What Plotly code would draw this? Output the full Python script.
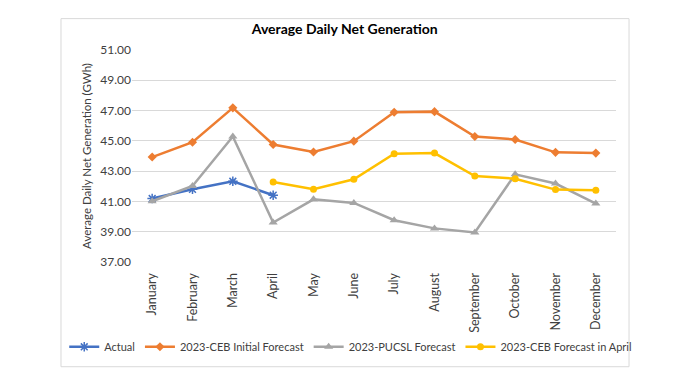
import plotly.graph_objects as go

months = ["January", "February", "March", "April", "May", "June", "July",
          "August", "September", "October", "November", "December"]
actual = [41.19, 41.80, 42.33, 41.41, None, None, None, None, None, None, None, None]
ceb_initial = [43.93, 44.91, 47.18, 44.76, 44.26, 44.98, 46.89, 46.93, 45.29, 45.09, 44.24, 44.19]
pucsl = [41.01, 42.02, 45.29, 39.61, 41.14, 40.90, 39.76, 39.22, 38.95, 42.79, 42.18, 40.86]
ceb_april = [None, None, None, 42.28, 41.80, 42.46, 44.15, 44.19, 42.68, 42.50, 41.78, 41.74]
y_ticks = [37, 39, 41, 43, 45, 47, 49, 51]

FONT = "Lato"

fig = go.Figure()
fig.add_trace(go.Scatter(x=months, y=actual, name="Actual", mode="lines+markers",
                         line=dict(color="#4472C4", width=2.5),
                         marker=dict(symbol="asterisk-open", size=8, color="#4472C4",
                                     line=dict(color="#4472C4", width=1.5))))
fig.add_trace(go.Scatter(x=months, y=ceb_initial, name="2023-CEB Initial Forecast", mode="lines+markers",
                         line=dict(color="#ED7D31", width=2.5),
                         marker=dict(symbol="diamond", size=7, color="#ED7D31")))
fig.add_trace(go.Scatter(x=months, y=pucsl, name="2023-PUCSL Forecast", mode="lines+markers",
                         line=dict(color="#A5A5A5", width=2.5),
                         marker=dict(symbol="triangle-up", size=8, color="#A5A5A5")))
fig.add_trace(go.Scatter(x=months, y=ceb_april, name="2023-CEB Forecast in April", mode="lines+markers",
                         line=dict(color="#FFC000", width=2.5),
                         marker=dict(symbol="circle", size=7, color="#FFC000")))

fig.update_layout(
    width=700, height=391,
    margin=dict(l=124, r=92, t=41.5, b=137, autoexpand=False),
    paper_bgcolor="white", plot_bgcolor="white",
    font=dict(family=FONT, color="#404040", size=12),
    title=dict(text="<b>Average Daily Net Generation</b>", xref="container", x=0.481,
               xanchor="center", yref="container", y=0.946, yanchor="middle",
               font=dict(family=FONT, size=14, color="#000000")),
    showlegend=True,
    legend=dict(orientation="h", x=-0.14, xanchor="left", y=-0.4, yanchor="middle",
                bgcolor="rgba(0,0,0,0)",
                font=dict(size=11, color="#404040"), itemwidth=30, tracegroupgap=0),
    shapes=[dict(type="rect", xref="paper", yref="paper", x0=-0.1467, x1=1.0269,
                 y0=-0.494, y1=1.148, line=dict(color="#D9D9D9", width=1), layer="below")],
)
fig.update_xaxes(type="category", tickangle=-90, showgrid=False, showline=False,
                 ticks="outside", ticklen=5, tickcolor="rgba(0,0,0,0)",
                 tickfont=dict(size=12.5, color="#404040"), range=[-0.5, 11.5])
fig.update_yaxes(range=[37, 51], tickvals=y_ticks, tickformat=".2f", showgrid=True,
                 gridcolor="#D9D9D9", gridwidth=1, zeroline=False, showline=False,
                 ticks="", tickfont=dict(size=12, color="#404040"),
                 title=dict(text="Average Daily Net Generation (GWh)",
                            font=dict(size=11.5, color="#404040"), standoff=6))

fig.write_html("out.html")
